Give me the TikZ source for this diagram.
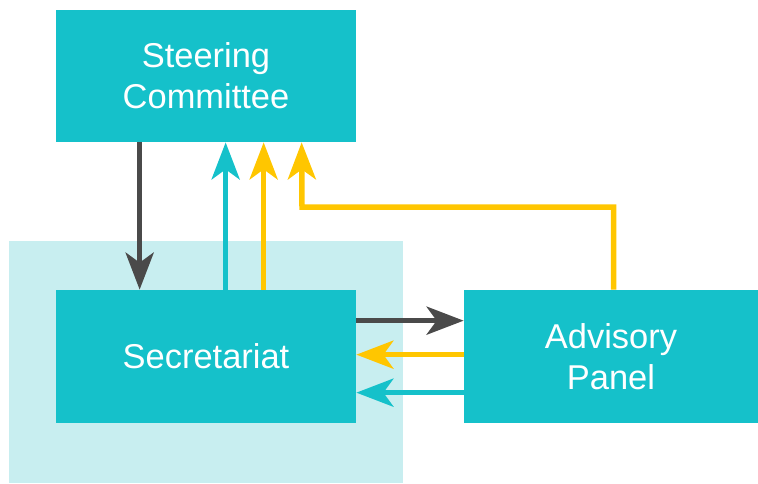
\documentclass[tikz,border=0pt]{standalone}
\usepackage{fontspec}
\setmainfont{Liberation Sans}
\usepackage{tikz}
\usetikzlibrary{arrows,arrows.meta,positioning,calc}

\definecolor{teal}{RGB}{21,193,202}
\definecolor{paleteal}{RGB}{200,238,240}
\definecolor{gold}{RGB}{255,198,0}
\definecolor{charcoal}{RGB}{74,74,74}

\tikzset{
	unit/.style={fill=teal, text=white, align=center, inner sep=0pt,
		minimum width=6cm, minimum height=2.66cm,
		font=\fontsize{19.6}{23.3}\selectfont},
	flow/.style={line width=0.11cm, -{Stealth[length=0.74cm, width=0.56cm, inset=0.2cm]}},
	darkflow/.style={flow, draw=charcoal},
	tealflow/.style={flow, draw=teal},
	goldflow/.style={flow, draw=gold}
}

\begin{document}
\begin{tikzpicture}
				\useasboundingbox (0,0) rectangle (15.16,-9.66);
				\fill[paleteal] (0.18,-4.82) rectangle (8.06,-9.66);
				\node[unit, minimum height=2.64cm] (steering) at (4.12,-1.52) {Steering\\Committee};
				\node[unit] (secretariat) at (4.12,-7.13) {Secretariat};
				\node[unit, minimum width=5.88cm] (panel) at (12.22,-7.13) {Advisory\\Panel};
				\coordinate (turn) at (6.04,-4.14);
				% committee <-> secretariat
				\draw[darkflow] ([xshift=1.68cm]steering.south west) -- ([xshift=1.68cm]secretariat.north west);
				\draw[tealflow] ([xshift=3.4cm]secretariat.north west) -- ([xshift=3.4cm]steering.south west);
				\draw[goldflow] ([xshift=4.16cm]secretariat.north west) -- ([xshift=4.16cm]steering.south west);
				\draw[goldflow] ([xshift=3cm]panel.north west) |- (turn) -- ([xshift=4.92cm]steering.south west);
				% secretariat <-> panel
				\draw[darkflow] ([yshift=-0.62cm]secretariat.north east) -- ([yshift=-0.62cm]panel.north west);
				\draw[goldflow] ([yshift=-1.3cm]panel.north west) -- ([yshift=-1.3cm]secretariat.north east);
				\draw[tealflow] ([yshift=-2.06cm]panel.north west) -- ([yshift=-2.06cm]secretariat.north east);
\end{tikzpicture}
\end{document}
